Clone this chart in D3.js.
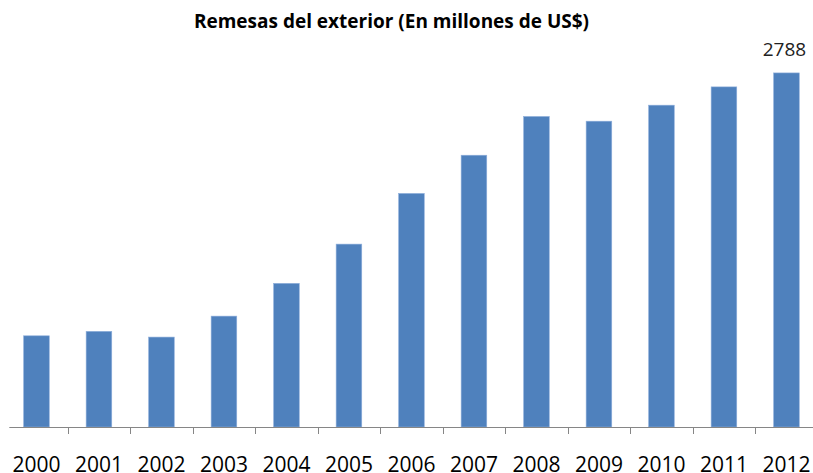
<!DOCTYPE html>
<html lang="es">
<head>
<meta charset="UTF-8">
<title>Remesas del exterior</title>
<script src="https://d3js.org/d3.v7.min.js"></script>
<style>
    body { margin: 0; padding: 0; background: #fff; }
    svg { display: block; }
    .title { font-family: "Open Sans", sans-serif; font-weight: bold; font-size: 19px; fill: #000; }
    .tick-label { font-family: "Open Sans", sans-serif; font-size: 21px; fill: #000; }
    .value-label { font-family: "Open Sans", sans-serif; font-size: 19px; fill: #222; }
</style>
</head>
<body>
<svg id="chart"></svg>
<script>
    // data
    const years = ["2000", "2001", "2002", "2003", "2004", "2005", "2006",
                   "2007", "2008", "2009", "2010", "2011", "2012"];
    const remesas = [718, 753, 708, 873, 1131, 1440, 1839, 2140, 2445, 2408, 2534, 2678, 2788];
    const labelled = ["2012"]; // only the last bar carries its value

    const width = 813, height = 473;
    const baseY = 427;

    const svg = d3.select("#chart")
        .attr("width", width)
        .attr("height", height);

    const x = d3.scaleBand()
        .domain(years)
        .range([5.2, 817.7])
        .paddingInner(0.59)
        .paddingOuter(0.295);

    const y = d3.scaleLinear()
        .domain([0, 3000])
        .range([baseY, 46]);

    const step = x.step();

    // bars
    svg.selectAll(".bar")
        .data(years)
        .enter().append("rect")
        .attr("class", "bar")
        .attr("x", d => x(d))
        .attr("width", x.bandwidth())
        .attr("y", (d, i) => y(remesas[i]))
        .attr("height", (d, i) => baseY - y(remesas[i]))
        .attr("fill", "#4f81bd")
        .attr("stroke", "#8eaedb")
        .attr("stroke-width", 0.6);

    // category axis: line + ticks between categories
    svg.append("line")
        .attr("x1", 9.3).attr("x2", width)
        .attr("y1", baseY + 0.5).attr("y2", baseY + 0.5)
        .attr("stroke", "#868686")
        .attr("stroke-width", 1);

    svg.selectAll(".sep")
        .data(years.slice(0, -1))
        .enter().append("line")
        .attr("class", "sep")
        .attr("x1", d => Math.round(x(d) + x.bandwidth() / 2 + step / 2) + 0.5)
        .attr("x2", d => Math.round(x(d) + x.bandwidth() / 2 + step / 2) + 0.5)
        .attr("y1", baseY)
        .attr("y2", baseY + 7)
        .attr("stroke", "#868686");

    svg.selectAll(".tick-label")
        .data(years)
        .enter().append("text")
        .attr("class", "tick-label")
        .attr("x", d => x(d) + x.bandwidth() / 2)
        .attr("y", 472)
        .attr("text-anchor", "middle")
        .text(d => d);

    // value label on the last bar
    svg.selectAll(".value-label")
        .data(labelled)
        .enter().append("text")
        .attr("class", "value-label")
        .attr("x", d => x(d) + x.bandwidth() / 2 - 2)
        .attr("y", d => y(remesas[years.indexOf(d)]) - 17)
        .attr("text-anchor", "middle")
        .text(d => remesas[years.indexOf(d)]);

    svg.append("text")
        .attr("class", "title")
        .attr("x", 391.5)
        .attr("y", 28)
        .attr("text-anchor", "middle")
        .text("Remesas del exterior (En millones de US$)");
</script>
</body>
</html>
